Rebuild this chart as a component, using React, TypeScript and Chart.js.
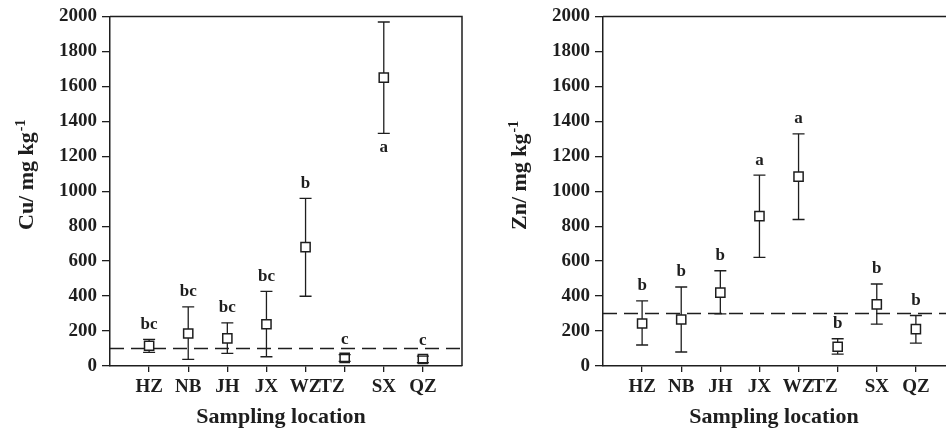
import React, { useEffect, useRef } from "react";
import { Chart, registerables } from "chart.js";

Chart.register(...registerables);

// ---- data ----
const categories = ["HZ", "NB", "JH", "JX", "WZ", "TZ", "SX", "QZ"];

const cuMean = [116, 186, 158, 239, 680, 47, 1650, 40];
const cuUpper = [152, 338, 247, 427, 959, 65, 1968, 57];
const cuLower = [78, 38, 72, 53, 399, 27, 1331, 19];
const cuLetters = ["bc", "bc", "bc", "bc", "b", "c", "a", "c"];
const cuLetterBelow = [false, false, false, false, false, false, true, false];
const cuLimit = 100;

const znMean = [243, 266, 420, 857, 1083, 110, 353, 211];
const znUpper = [372, 452, 545, 1092, 1328, 156, 469, 289];
const znLower = [120, 80, 298, 621, 838, 68, 239, 131];
const znLetters = ["b", "b", "b", "a", "a", "b", "b", "b"];
const znLetterBelow = [false, false, false, false, false, false, false, false];
const znLimit = 300;

const yMin = 0;
const yMax = 2000;
const yStep = 200;

const xTitle = "Sampling location";
const cuTitle = { main: "Cu/ mg kg", sup: "-1" };
const znTitle = { main: "Zn/ mg kg", sup: "-1" };

// ---- style ----
const INK = "#1e1e1e";
const FAMILY = "'Liberation Serif', 'Times New Roman', serif";

type Cfg = {
  mean: number[];
  upper: number[];
  lower: number[];
  letters: string[];
  below: boolean[];
  limit: number;
  title: { main: string; sup: string };
};

function makePlugin(cfg: Cfg) {
  return {
    id: "decor",
    beforeDatasetsDraw(chart: any) {
      const { ctx, chartArea: a, scales } = chart;
      const x = scales.x;
      const y = scales.y;
      ctx.save();
      ctx.strokeStyle = INK;
      ctx.lineWidth = 1.5;
      // frame top & right
      ctx.beginPath();
      ctx.moveTo(a.left, a.top);
      ctx.lineTo(a.right, a.top);
      ctx.lineTo(a.right, a.bottom);
      ctx.stroke();
      // limit line
      const ly = y.getPixelForValue(cfg.limit);
      ctx.setLineDash([14, 7]);
      ctx.beginPath();
      ctx.moveTo(a.left, ly);
      ctx.lineTo(a.right, ly);
      ctx.stroke();
      ctx.setLineDash([]);
      // error stems
      ctx.lineWidth = 1.3;
      categories.forEach((_, i) => {
        const px = x.getPixelForValue(i + 1);
        ctx.beginPath();
        ctx.moveTo(px, y.getPixelForValue(cfg.upper[i]));
        ctx.lineTo(px, y.getPixelForValue(cfg.lower[i]));
        ctx.stroke();
      });
      ctx.restore();
    },
    afterDatasetsDraw(chart: any) {
      const { ctx, scales } = chart;
      const x = scales.x;
      const y = scales.y;
      ctx.save();
      ctx.strokeStyle = INK;
      ctx.lineWidth = 1.3;
      categories.forEach((_, i) => {
        const px = x.getPixelForValue(i + 1);
        const yu = y.getPixelForValue(cfg.upper[i]);
        const yl = y.getPixelForValue(cfg.lower[i]);
        ctx.beginPath();
        ctx.moveTo(px - 6, yu);
        ctx.lineTo(px + 6, yu);
        ctx.moveTo(px - 6, yl);
        ctx.lineTo(px + 6, yl);
        ctx.stroke();
        // letters
        ctx.fillStyle = INK;
        ctx.font = `bold 17px ${FAMILY}`;
        ctx.textAlign = "center";
        ctx.textBaseline = "middle";
        const ty = cfg.below[i] ? yl + 14 : yu - 15;
        ctx.fillText(cfg.letters[i], px, ty);
      });
      ctx.restore();
    },
    afterDraw(chart: any) {
      const { ctx, chartArea: a, scales } = chart;
      const x = scales.x;
      ctx.save();
      ctx.fillStyle = INK;
      // x category labels
      ctx.font = `bold 19px ${FAMILY}`;
      ctx.textBaseline = "middle";
      categories.forEach((c, i) => {
        const px = x.getPixelForValue(i + 1);
        if (c === "TZ") {
          ctx.textAlign = "right";
          ctx.fillText(c, px, a.bottom + 21);
        } else {
          ctx.textAlign = "center";
          ctx.fillText(c, px, a.bottom + 21);
        }
      });
      // x title
      ctx.font = `bold 22px ${FAMILY}`;
      ctx.textAlign = "center";
      const cx = (x.getPixelForValue(0) + x.getPixelForValue(9)) / 2 - 5;
      ctx.fillText(xTitle, cx, a.bottom + 51);
      // y title (rotated, with superscript)
      ctx.save();
      ctx.translate(33, 230);
      ctx.rotate(-Math.PI / 2);
      ctx.textAlign = "left";
      ctx.textBaseline = "alphabetic";
      ctx.font = `bold 22px ${FAMILY}`;
      ctx.fillText(cfg.title.main, 0, 0);
      const w = ctx.measureText(cfg.title.main).width;
      ctx.font = `bold 14px ${FAMILY}`;
      ctx.fillText(cfg.title.sup, w + 1, -8);
      ctx.restore();
      ctx.restore();
    },
  };
}

function makeConfig(cfg: Cfg): any {
  return {
    type: "scatter",
    data: {
      datasets: [
        {
          data: cfg.mean.map((v, i) => ({ x: i + 1, y: v })),
          pointStyle: "rect",
          pointRadius: 6.5,
          pointBorderWidth: 1.5,
          pointBorderColor: INK,
          pointBackgroundColor: "#ffffff",
          showLine: false,
        },
      ],
    },
    options: {
      animation: false,
      responsive: false,
      devicePixelRatio: 1,
      layout: { padding: { top: 14, right: 18, left: 0, bottom: 0 } },
      plugins: { legend: { display: false }, tooltip: { enabled: false } },
      scales: {
        x: {
          type: "linear",
          min: 0,
          max: 9,
          afterBuildTicks: (s: any) => {
            s.ticks = categories.map((_, i) => ({ value: i + 1 }));
          },
          afterFit: (s: any) => {
            s.height = 67;
          },
          ticks: { display: false },
          grid: {
            drawOnChartArea: false,
            drawTicks: true,
            tickLength: 6,
            color: INK,
            lineWidth: 1.3,
          },
          border: { color: INK, width: 1.5 },
        },
        y: {
          min: yMin,
          max: yMax,
          afterFit: (s: any) => {
            s.width = 110;
          },
          ticks: {
            stepSize: yStep,
            color: INK,
            padding: 5,
            callback: (v: any) => String(v),
            font: { family: FAMILY, size: 19, weight: "bold" },
          },
          grid: {
            drawOnChartArea: false,
            drawTicks: true,
            tickLength: 8,
            color: INK,
            lineWidth: 1.3,
          },
          border: { color: INK, width: 1.5 },
        },
      },
    },
    plugins: [makePlugin(cfg)],
  };
}

function Panel({ cfg, left }: { cfg: Cfg; left: number }) {
  const ref = useRef<HTMLCanvasElement | null>(null);
  useEffect(() => {
    if (!ref.current) return;
    const chart = new Chart(ref.current, makeConfig(cfg));
    return () => chart.destroy();
  }, [cfg]);
  return (
    <canvas
      ref={ref}
      width={480}
      height={433}
      style={{ position: "absolute", left, top: 0, width: 480, height: 433 }}
    />
  );
}

const cuCfg: Cfg = {
  mean: cuMean,
  upper: cuUpper,
  lower: cuLower,
  letters: cuLetters,
  below: cuLetterBelow,
  limit: cuLimit,
  title: cuTitle,
};
const znCfg: Cfg = {
  mean: znMean,
  upper: znUpper,
  lower: znLower,
  letters: znLetters,
  below: znLetterBelow,
  limit: znLimit,
  title: znTitle,
};

export default function App() {
  return (
    <div
      style={{
        position: "fixed",
        left: 0,
        top: 0,
        width: 946,
        height: 433,
        overflow: "hidden",
        background: "#ffffff",
      }}
    >
      <Panel cfg={cuCfg} left={0} />
      <Panel cfg={znCfg} left={493} />
    </div>
  );
}
